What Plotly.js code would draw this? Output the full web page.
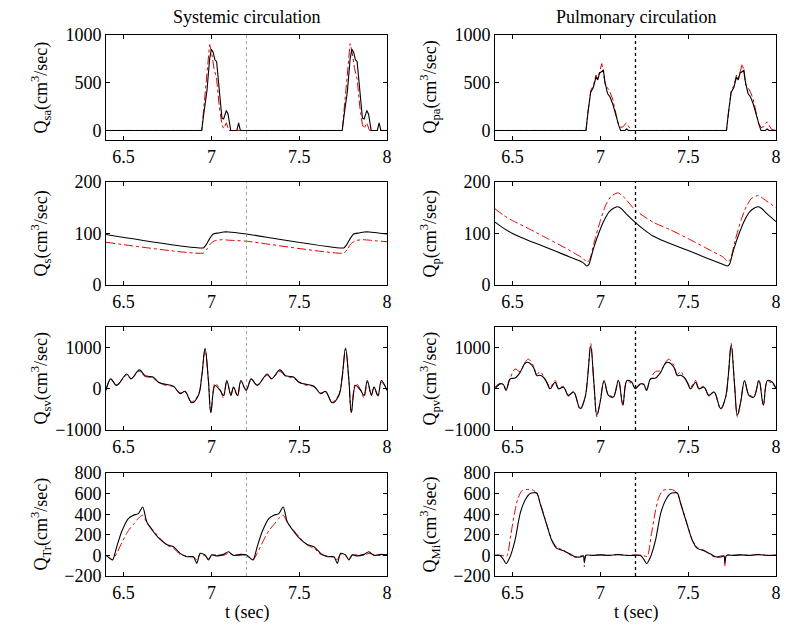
<!DOCTYPE html>
<html>
<head>
<meta charset="utf-8">
<script src="https://cdn.plot.ly/plotly-3.0.1.min.js"></script>
<style>html,body{margin:0;padding:0;background:#fff;}#chart{width:800px;height:626px;}</style>
</head>
<body>
<div id="chart"></div>
<script>
// ---------- DATA ----------
// Q_sa : systemic arterial flow
const T_SA_B = [6.4, 6.945, 6.955, 6.965, 6.975, 6.99, 7.0, 7.01, 7.02, 7.03, 7.045, 7.06, 7.07, 7.085, 7.095, 7.11, 7.145, 7.155, 7.165, 7.745, 7.755, 7.765, 7.775, 7.79, 7.8, 7.81, 7.82, 7.83, 7.845, 7.86, 7.87, 7.885, 7.895, 7.91, 7.945, 7.955, 7.965, 8.0];
const Q_SA_B = [0, 0, 150, 300, 420, 750, 850, 820, 740, 720, 450, 130, 120, 210, 170, 0, 0, 80, 0, 0, 150, 300, 420, 750, 850, 820, 740, 720, 450, 130, 120, 210, 170, 0, 0, 80, 0, 0];
const T_SA_R = [6.4, 6.945, 6.96, 6.975, 6.99, 7.0, 7.015, 7.03, 7.045, 7.06, 7.07, 7.085, 7.1, 7.745, 7.76, 7.775, 7.79, 7.8, 7.815, 7.83, 7.845, 7.86, 7.87, 7.885, 7.9, 8.0];
const Q_SA_R = [0, 0, 300, 600, 900, 830, 650, 540, 250, 60, 20, 80, 0, 0, 300, 600, 910, 830, 650, 540, 250, 60, 20, 80, 0, 0];

// Q_pa : pulmonary arterial flow
const T_PA_B = [6.4, 6.918, 6.93, 6.945, 6.96, 6.975, 6.985, 6.995, 7.0175, 7.025, 7.04, 7.055, 7.07, 7.08, 7.09, 7.105, 7.115, 7.14, 7.15, 7.16, 7.718, 7.73, 7.745, 7.76, 7.775, 7.785, 7.795, 7.8175, 7.825, 7.84, 7.855, 7.87, 7.88, 7.89, 7.905, 7.915, 7.94, 7.95, 7.96, 8.0];
const Q_PA_B = [0, 0, 200, 400, 450, 560, 530, 600, 630, 520, 390, 350, 280, 200, 150, 50, 0, 0, 15, 0, 0, 200, 400, 450, 560, 530, 600, 630, 520, 390, 350, 280, 200, 150, 50, 0, 0, 15, 0, 0];
const T_PA_R = [6.4, 6.918, 6.93, 6.945, 6.96, 6.975, 6.985, 6.995, 7.008, 7.018, 7.028, 7.04, 7.055, 7.07, 7.085, 7.1, 7.115, 7.13, 7.148, 7.16, 7.175, 7.718, 7.73, 7.745, 7.76, 7.775, 7.785, 7.795, 7.808, 7.818, 7.828, 7.84, 7.855, 7.87, 7.885, 7.9, 7.915, 7.93, 7.948, 7.96, 7.975, 8.0];
const Q_PA_R = [0, 0, 200, 420, 470, 580, 540, 620, 700, 600, 470, 450, 400, 330, 200, 80, 30, 40, 80, 50, 0, 0, 200, 420, 470, 580, 540, 620, 700, 600, 470, 450, 400, 330, 200, 80, 30, 40, 90, 60, 10, 0];

// Q_s : systemic flow
const T_S_B = [6.4, 6.954, 6.97, 6.99, 7.01, 7.04, 7.07, 7.1, 7.2, 7.754, 7.77, 7.79, 7.81, 7.84, 7.87, 7.9, 8.0];
const Q_S_B = [98, 72, 78, 90, 99, 101, 103, 103, 99, 72, 78, 90, 99, 101, 103, 103, 99];
const T_S_R = [6.4, 6.955, 6.975, 6.995, 7.02, 7.06, 7.1, 7.2, 7.755, 7.775, 7.795, 7.82, 7.86, 7.9, 8.0];
const Q_S_R = [83, 62, 70, 80, 86, 88, 87, 85, 62, 70, 80, 86, 88, 87, 84];

// Q_p : pulmonary flow
const T_P_B = [6.4, 6.45, 6.5, 6.55, 6.6, 6.7, 6.8, 6.9, 6.922, 6.935, 6.96, 6.99, 7.02, 7.05, 7.08, 7.1, 7.12, 7.15, 7.2, 7.25, 7.3, 7.35, 7.4, 7.5, 7.6, 7.7, 7.722, 7.735, 7.76, 7.79, 7.82, 7.85, 7.88, 7.9, 7.92, 7.95, 8.0];
const Q_P_B = [122, 110, 100, 92, 85, 72, 58, 44, 37, 40, 70, 100, 125, 142, 150, 152, 148, 137, 121, 107, 95, 87, 80, 67, 53, 40, 37, 40, 70, 100, 125, 142, 150, 152, 148, 138, 123];
const T_P_R = [6.4, 6.45, 6.5, 6.6, 6.7, 6.8, 6.9, 6.925, 6.94, 6.97, 7.0, 7.03, 7.06, 7.1, 7.13, 7.2, 7.3, 7.4, 7.5, 7.6, 7.7, 7.725, 7.74, 7.77, 7.8, 7.83, 7.86, 7.9, 7.93, 8.0];
const Q_P_R = [148, 135, 125, 108, 90, 72, 52, 44, 50, 90, 125, 155, 172, 179, 172, 145, 122, 107, 90, 72, 54, 45, 50, 90, 125, 152, 168, 174, 167, 150];

// Q_sv : systemic venous flow
const T_SV = [6.4, 6.427, 6.461, 6.518, 6.543, 6.59, 6.622, 6.647, 6.67, 6.698, 6.727, 6.784, 6.822, 6.85, 6.888, 6.926, 6.945, 6.964, 6.983, 6.997, 7.021, 7.05, 7.069, 7.088, 7.111, 7.126, 7.149, 7.168, 7.198,
              7.227, 7.261, 7.318, 7.343, 7.39, 7.422, 7.447, 7.47, 7.498, 7.527, 7.584, 7.622, 7.65, 7.688, 7.726, 7.745, 7.764, 7.783, 7.797, 7.821, 7.85, 7.869, 7.888, 7.911, 7.926, 7.949, 7.968, 8.0];
const Q_SV_B = [-40, 240, 80, 360, 240, 460, 320, 300, 280, 160, 120, 60, -120, -60, -340, -160, 300, 980, 200, -580, 80, -40, -160, 200, -160, 40, -160, 200, -40,
                240, 80, 360, 240, 460, 320, 300, 280, 160, 120, 60, -120, -60, -340, -160, 300, 990, 200, -580, 80, -40, -160, 200, -160, 40, -160, 200, -40];
const Q_SV_R = [-20, 220, 100, 330, 250, 420, 300, 280, 250, 170, 100, 50, -100, -80, -320, -140, 280, 960, 220, -560, 130, -20, -220, 160, -120, 20, -180, 160, -20,
                220, 100, 330, 250, 420, 300, 280, 250, 170, 100, 50, -100, -80, -320, -140, 280, 970, 220, -560, 130, -20, -220, 160, -120, 20, -180, 160, -20];

// Q_pv : pulmonary venous flow
const T_PV = [6.4, 6.429, 6.448, 6.463, 6.486, 6.514, 6.543, 6.571, 6.59, 6.619, 6.638, 6.657, 6.676, 6.695, 6.714, 6.742, 6.761, 6.79, 6.818, 6.847, 6.885, 6.913, 6.928, 6.945, 6.964, 6.98, 6.999, 7.021, 7.046, 7.074, 7.103, 7.128, 7.151, 7.179, 7.198,
              7.229, 7.248, 7.263, 7.286, 7.314, 7.343, 7.371, 7.39, 7.419, 7.438, 7.457, 7.476, 7.495, 7.514, 7.542, 7.561, 7.59, 7.618, 7.647, 7.685, 7.713, 7.728, 7.745, 7.764, 7.78, 7.799, 7.821, 7.846, 7.874, 7.903, 7.928, 7.951, 7.979, 8.0];
const Q_PV_B = [0, 120, 100, -40, 240, 260, 400, 620, 640, 520, 320, 330, 280, 150, 0, 160, 0, 40, -160, -80, -480, -200, 300, 1040, 100, -640, -320, 200, -160, -200, 200, -400, 200, 160, 0,
                120, 100, -40, 240, 260, 400, 620, 640, 520, 320, 330, 280, 150, 0, 160, 0, 40, -160, -80, -480, -200, 300, 1060, 100, -640, -320, 200, -160, -200, 200, -400, 200, 160, 0];
const Q_PV_R = [40, 130, 110, -20, 250, 480, 420, 640, 720, 560, 350, 420, 300, 170, 40, 200, 20, 60, -180, -60, -500, -220, 320, 1100, 80, -680, -300, 180, -140, -180, 220, -380, 180, 120, 20,
                130, 110, -20, 250, 420, 440, 640, 720, 560, 350, 420, 300, 170, 40, 200, 20, 60, -180, -60, -500, -220, 320, 1100, 80, -680, -300, 180, -140, -180, 220, -380, 180, 120, 20];

// Q_Tr : tricuspid flow
const T_TR = [6.4, 6.423, 6.438, 6.461, 6.489, 6.527, 6.556, 6.584, 6.609, 6.632, 6.67, 6.708, 6.746, 6.784, 6.822, 6.86, 6.898, 6.917, 6.936, 6.964, 6.983, 7.002, 7.031, 7.069, 7.097, 7.126, 7.164, 7.198,
              7.223, 7.238, 7.261, 7.289, 7.327, 7.356, 7.384, 7.409, 7.432, 7.47, 7.508, 7.546, 7.584, 7.622, 7.66, 7.698, 7.717, 7.736, 7.764, 7.783, 7.802, 7.831, 7.869, 7.897, 7.926, 7.964, 8.0];
const Q_TR_B = [0, -30, -45, 84, 230, 358, 390, 406, 470, 326, 230, 155, 106, 84, 20, -13, -13, -77, 20, 5, -45, 5, -5, 10, 35, 0, 10, 5,
                -30, -45, 84, 230, 358, 390, 406, 470, 326, 230, 155, 106, 84, 20, -13, -13, -77, 20, 5, -45, 5, -5, 10, 35, 0, 10, 5];
const Q_TR_R = [0, -30, -40, 20, 120, 240, 300, 360, 390, 320, 240, 165, 100, 70, 10, -5, -20, -40, 10, -5, -30, 0, 5, 0, 20, 5, 0, 5,
                -30, -40, 20, 120, 240, 300, 360, 390, 320, 240, 165, 100, 70, 10, -5, -20, -40, 10, -5, -30, 0, 5, 0, 20, 5, 0, 5];

// Q_Mi : mitral flow
const T_MI_B = [6.4, 6.429, 6.448, 6.463, 6.486, 6.514, 6.543, 6.571, 6.6, 6.638, 6.657, 6.695, 6.723, 6.752, 6.79, 6.828, 6.856, 6.885, 6.904, 6.909, 6.918, 6.96, 7.0, 7.05, 7.1, 7.15, 7.198,
                7.229, 7.248, 7.263, 7.286, 7.314, 7.343, 7.371, 7.4, 7.438, 7.457, 7.495, 7.523, 7.552, 7.59, 7.628, 7.656, 7.685, 7.704, 7.709, 7.718, 7.76, 7.8, 7.85, 7.9, 7.95, 8.0];
const Q_MI_B = [0, 0, -40, -80, -13, 148, 406, 535, 600, 606, 503, 294, 148, 68, 45, 13, -13, -15, -5, -70, 0, 0, 5, 0, 8, 0, 0,
                0, -40, -80, -13, 148, 406, 535, 600, 606, 503, 294, 148, 68, 45, 13, -13, -15, -5, -70, 0, 0, 5, 0, 8, 0, 0];
const T_MI_R = [6.4, 6.44, 6.466, 6.49, 6.51, 6.53, 6.555, 6.6, 6.62, 6.638, 6.657, 6.695, 6.723, 6.752, 6.79, 6.828, 6.856, 6.885, 6.904, 6.909, 6.915, 6.95, 7.0, 7.05, 7.1, 7.15, 7.198,
                7.24, 7.266, 7.29, 7.31, 7.33, 7.355, 7.4, 7.42, 7.438, 7.457, 7.495, 7.523, 7.552, 7.59, 7.628, 7.656, 7.685, 7.704, 7.709, 7.715, 7.75, 7.8, 7.85, 7.9, 7.95, 8.0];
const Q_MI_R = [0, 0, -10, 200, 400, 550, 630, 640, 630, 600, 510, 300, 150, 80, 50, 5, -20, -5, -10, -110, 0, 0, 5, 0, 10, 0, 5,
                0, -10, 200, 400, 550, 630, 640, 630, 600, 510, 300, 150, 80, 50, 5, -20, -5, -10, -110, 0, 0, 5, 0, 10, 0, 5];

const X_TICKS = [6.5, 7, 7.5, 8];
const X_TICK_TEXT = ['6.5', '7', '7.5', '8'];
const MARKER_T = 7.2;
const COLUMN_TITLES = ['Systemic circulation', 'Pulmonary circulation'];
const X_TITLE = 't (sec)';

// ---------- PANELS ----------
const panels = [
  {tb: T_SA_B, qb: Q_SA_B, tr: T_SA_R, qr: Q_SA_R, sub: 'sa', range: [-100, 1000], ticks: [0, 500, 1000], smooth: 0},
  {tb: T_PA_B, qb: Q_PA_B, tr: T_PA_R, qr: Q_PA_R, sub: 'pa', range: [-100, 1000], ticks: [0, 500, 1000], smooth: 0},
  {tb: T_S_B, qb: Q_S_B, tr: T_S_R, qr: Q_S_R, sub: 's', range: [0, 200], ticks: [0, 100, 200], smooth: 0.5},
  {tb: T_P_B, qb: Q_P_B, tr: T_P_R, qr: Q_P_R, sub: 'p', range: [0, 200], ticks: [0, 100, 200], smooth: 0.5},
  {tb: T_SV, qb: Q_SV_B, tr: T_SV, qr: Q_SV_R, sub: 'sv', range: [-1000, 1500], ticks: [-1000, 0, 1000], smooth: 1},
  {tb: T_PV, qb: Q_PV_B, tr: T_PV, qr: Q_PV_R, sub: 'pv', range: [-1000, 1500], ticks: [-1000, 0, 1000], smooth: 1},
  {tb: T_TR, qb: Q_TR_B, tr: T_TR, qr: Q_TR_R, sub: 'Tr', range: [-200, 800], ticks: [-200, 0, 200, 400, 600, 800], smooth: 0.7},
  {tb: T_MI_B, qb: Q_MI_B, tr: T_MI_R, qr: Q_MI_R, sub: 'Mi', range: [-200, 800], ticks: [-200, 0, 200, 400, 600, 800], smooth: 0.7}
];

const W = 800, H = 626;
const colPx = [[106, 387], [495, 776]];
const rowPx = [[35, 140], [182, 285], [327, 430], [473, 576]];
const FONT = 'Liberation Serif';
function txt() { return {family: FONT, size: 18, color: '#000'}; }

const data = [];
const layout = {
  width: W, height: H,
  margin: {l: 0, r: 0, t: 0, b: 0},
  paper_bgcolor: '#fff', plot_bgcolor: '#fff',
  showlegend: false,
  font: txt(),
  shapes: [], annotations: []
};

panels.forEach((p, i) => {
  const n = i + 1;
  const col = i % 2, row = Math.floor(i / 2);
  const xa = 'x' + n, ya = 'y' + n;
  const shp = p.smooth > 0 ? {shape: 'spline', smoothing: p.smooth} : {shape: 'linear'};
  data.push({x: p.tr, y: p.qr, xaxis: xa, yaxis: ya, type: 'scatter', mode: 'lines',
             line: Object.assign({color: '#e00000', width: 1, dash: 'dashdot'}, shp), hoverinfo: 'skip'});
  data.push({x: p.tb, y: p.qb, xaxis: xa, yaxis: ya, type: 'scatter', mode: 'lines',
             line: Object.assign({color: '#000', width: 1.1}, shp), hoverinfo: 'skip'});
  const xd = [colPx[col][0] / W, colPx[col][1] / W];
  const yd = [1 - rowPx[row][1] / H, 1 - rowPx[row][0] / H];
  layout['xaxis' + n] = {
    domain: xd, anchor: ya, range: [6.4, 8], tickvals: X_TICKS, ticktext: X_TICK_TEXT,
    ticks: 'inside', ticklen: 4, tickwidth: 1, tickcolor: '#000',
    showline: true, linecolor: '#000', linewidth: 1, mirror: 'ticks',
    showgrid: false, zeroline: false, tickfont: txt()
  };
  layout['yaxis' + n] = {
    domain: yd, anchor: xa, range: p.range, tickvals: p.ticks,
    ticks: 'inside', ticklen: 4, tickwidth: 1, tickcolor: '#000',
    showline: true, linecolor: '#000', linewidth: 1, mirror: 'ticks',
    showgrid: false, zeroline: false, tickfont: txt()
  };
  layout.shapes.push({
    type: 'line', xref: xa, yref: ya + ' domain', x0: MARKER_T, x1: MARKER_T, y0: 0, y1: 1,
    line: col === 0 ? {color: '#888', width: 0.8, dash: 'dot'} : {color: '#000', width: 1.3, dash: 'dot'}
  });
  layout.annotations.push({
    text: 'Q<sub>' + p.sub + '</sub>(cm<sup>3</sup>/sec)', textangle: -90,
    xref: 'paper', yref: 'paper',
    x: (col === 0 ? 41 : 430) / W, y: 1 - (rowPx[row][0] + rowPx[row][1]) / 2 / H,
    xanchor: 'center', yanchor: 'middle', showarrow: false, font: txt()
  });
});

COLUMN_TITLES.forEach((t, c) => {
  layout.annotations.push({
    text: t, xref: 'paper', yref: 'paper',
    x: (colPx[c][0] + colPx[c][1]) / 2 / W, y: 1 - 17 / H,
    xanchor: 'center', yanchor: 'middle', showarrow: false, font: txt()
  });
  layout.annotations.push({
    text: X_TITLE, xref: 'paper', yref: 'paper',
    x: (colPx[c][0] + colPx[c][1]) / 2 / W, y: 1 - 612 / H,
    xanchor: 'center', yanchor: 'middle', showarrow: false, font: txt()
  });
});

Plotly.newPlot('chart', data, layout, {displayModeBar: false, staticPlot: true});
</script>
</body>
</html>
